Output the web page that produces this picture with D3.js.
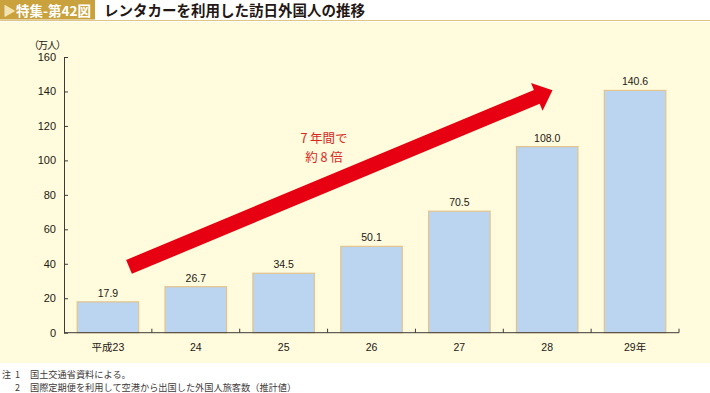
<!DOCTYPE html>
<html>
<head>
<meta charset="utf-8">
<script src="https://cdn.jsdelivr.net/npm/d3@7"></script>
<style>
  body { margin: 0; background: #fff; }
  svg { display: block; font-family: "Liberation Sans", Arial, "Noto Sans CJK JP", sans-serif; }
</style>
</head>
<body>
<div id="chart"></div>
<script>
var width = 710;
var height = 393;

// data
var years = ["平成23", "24", "25", "26", "27", "28", "29年"];
var visitors = [17.9, 26.7, 34.5, 50.1, 70.5, 108.0, 140.6];
var yTicks = [0, 20, 40, 60, 80, 100, 120, 140, 160];
var notes = ["国土交通省資料による。", "国際定期便を利用して空港から出国した外国人旅客数（推計値）"];
// arrow annotation, in category-index / value units
var arrowFrom = {i: 0.24, v: 38.2};
var arrowTo = {i: 5.06, v: 140.7};
var arrowText = ["7 年間で", "約 8 倍"];

var plot = {left: 64, right: 679, top: 57, bottom: 332.7};

var svg = d3.select("#chart")
    .append("svg")
    .attr("width", width)
    .attr("height", height);

// header
svg.append("rect").attr("x", 0).attr("y", 0).attr("width", 95).attr("height", 19.5).attr("fill", "#c9a23e");
svg.append("line").attr("x1", 0).attr("x2", width).attr("y1", 20.5).attr("y2", 20.5)
    .attr("stroke", "#dcc681").attr("stroke-width", 1);
svg.append("text").attr("x", 3).attr("y", 15)
    .attr("font-size", 13).attr("font-weight", "bold").attr("fill", "#f3e3b0")
    .style("font-family", "'Noto Sans CJK JP', sans-serif")
    .text("▶");
svg.append("text").attr("x", 16).attr("y", 15.5)
    .attr("font-size", 13.5).attr("font-weight", "bold").attr("fill", "#fff")
    .style("font-family", "'Noto Sans CJK JP', sans-serif")
    .text("特集-第42図");
svg.append("text").attr("x", 104).attr("y", 15.5)
    .attr("font-size", 14.5).attr("font-weight", "bold").attr("fill", "#231815")
    .style("font-family", "'Noto Sans CJK JP', sans-serif")
    .text("レンタカーを利用した訪日外国人の推移");

// cream panel
svg.append("rect").attr("x", 0).attr("y", 22).attr("width", width).attr("height", 341).attr("fill", "#fffbdc");

var x = d3.scaleBand()
    .domain(years)
    .range([plot.left, plot.right])
    .paddingInner(0.3)
    .paddingOuter(0.15);

var y = d3.scaleLinear()
    .domain([0, 160])
    .range([plot.bottom, plot.top]);

var step = x.step();
var xi = d3.scaleLinear().domain([-0.5, years.length - 0.5]).range([plot.left, plot.right]);

var g = svg.append("g");

// bars
g.selectAll("rect.bar")
    .data(visitors)
    .enter()
    .append("rect")
    .attr("class", "bar")
    .attr("x", function(d, i) { return x(years[i]); })
    .attr("y", function(d) { return y(d); })
    .attr("width", x.bandwidth())
    .attr("height", function(d) { return y(0) - y(d); })
    .attr("fill", "#bbd4ef")
    .attr("stroke", "#e3c48c")
    .attr("stroke-width", 1.2);

g.selectAll("text.val")
    .data(visitors)
    .enter()
    .append("text")
    .attr("class", "val")
    .attr("x", function(d, i) { return x(years[i]) + x.bandwidth() / 2; })
    .attr("y", function(d) { return y(d) - 5; })
    .attr("text-anchor", "middle")
    .attr("font-size", 10.5)
    .attr("fill", "#231815")
    .text(function(d) { return d.toFixed(1); });

// y axis
var yAxis = d3.axisLeft(y).tickValues(yTicks).tickSizeInner(-4).tickSizeOuter(0).tickPadding(8);
var ya = svg.append("g").attr("transform", "translate(" + plot.left + ",0)").call(yAxis);
ya.select(".domain").attr("stroke", "#3e3a39");
ya.selectAll(".tick line").attr("stroke", "#3e3a39");
ya.selectAll(".tick text").attr("font-size", 11).attr("fill", "#231815")
    .style("font-family", "'Liberation Sans', Arial, sans-serif");

svg.append("text").attr("x", 33).attr("y", 49)
    .attr("font-size", 10).attr("fill", "#231815")
    .style("font-family", "'Noto Sans CJK JP', sans-serif")
    .text("（万人）").attr("letter-spacing", -1).attr("dx", -4);

// x axis: ticks at category boundaries
svg.append("line").attr("x1", plot.left).attr("x2", plot.right)
    .attr("y1", y(0)).attr("y2", y(0)).attr("stroke", "#3e3a39");
var bounds = d3.range(1, years.length + 1);
svg.selectAll("line.xt")
    .data(bounds)
    .enter()
    .append("line")
    .attr("class", "xt")
    .attr("x1", function(d) { return plot.left + d * step; })
    .attr("x2", function(d) { return plot.left + d * step; })
    .attr("y1", y(0)).attr("y2", y(0) - 4)
    .attr("stroke", "#3e3a39");

svg.selectAll("text.xl")
    .data(years)
    .enter()
    .append("text")
    .attr("class", "xl")
    .attr("x", function(d) { return x(d) + x.bandwidth() / 2; })
    .attr("y", y(0) + 18)
    .attr("text-anchor", "middle")
    .attr("font-size", 10.5)
    .attr("fill", "#231815")
    .style("font-family", "'Liberation Sans', Arial, 'Noto Sans CJK JP', sans-serif")
    .text(function(d) { return d; });

// arrow
var x0 = xi(arrowFrom.i), y0 = y(arrowFrom.v);
var x1 = xi(arrowTo.i), y1 = y(arrowTo.v);
var ang = Math.atan2(y1 - y0, x1 - x0);
var ux = Math.cos(ang), uy = Math.sin(ang), px = -uy, py = ux;
var shaft = 7.5, headW = 15, headL = 17;
var bx = x1 - ux * headL, by = y1 - uy * headL;
var pts = [
  [x0 + px * shaft, y0 + py * shaft],
  [bx + px * shaft, by + py * shaft],
  [bx + px * headW, by + py * headW],
  [x1, y1],
  [bx - px * headW, by - py * headW],
  [bx - px * shaft, by - py * shaft],
  [x0 - px * shaft, y0 - py * shaft]
];
svg.append("path")
    .attr("d", d3.line()(pts) + "Z")
    .attr("fill", "#e60012");

svg.selectAll("text.ann")
    .data(arrowText)
    .enter()
    .append("text")
    .attr("class", "ann")
    .attr("x", 324)
    .attr("y", function(d, i) { return 143 + i * 18.5; })
    .attr("text-anchor", "middle")
    .attr("font-size", 12.5)
    .attr("fill", "#d7281f")
    .style("font-family", "'Noto Sans CJK JP', sans-serif")
    .text(function(d) { return d; });

// notes
svg.append("text").attr("x", 2).attr("y", 378)
    .attr("font-size", 9).attr("fill", "#3e3a39")
    .style("font-family", "'Noto Sans CJK JP', sans-serif")
    .text("注");
svg.selectAll("text.nn")
    .data(notes)
    .enter()
    .append("text")
    .attr("class", "nn")
    .attr("x", 15)
    .attr("y", function(d, i) { return 378 + i * 13; })
    .attr("font-size", 9)
    .attr("fill", "#3e3a39")
    .style("font-family", "'Noto Sans CJK JP', sans-serif")
    .text(function(d, i) { return (i + 1); });
svg.selectAll("text.nt")
    .data(notes)
    .enter()
    .append("text")
    .attr("class", "nt")
    .attr("x", 30)
    .attr("y", function(d, i) { return 378 + i * 13; })
    .attr("font-size", 9.2)
    .attr("fill", "#3e3a39")
    .style("font-family", "'Noto Sans CJK JP', sans-serif")
    .text(function(d) { return d; });
</script>
</body>
</html>
